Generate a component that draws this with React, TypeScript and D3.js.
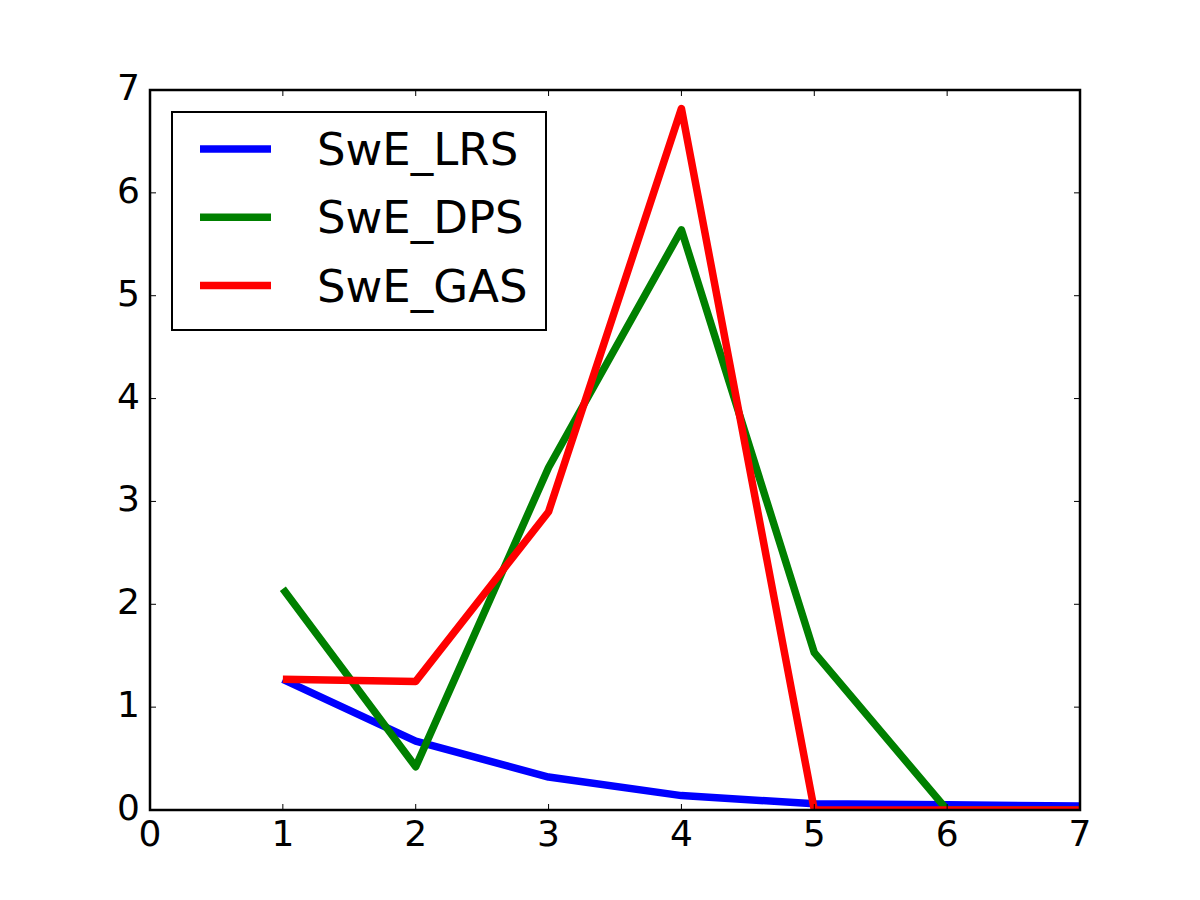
import React, { useEffect, useRef } from 'react'
import * as d3 from 'd3'

// x positions of the samples
const steps = [1, 2, 3, 4, 5, 6, 7]

const lrs = [1.27, 0.67, 0.32, 0.14, 0.06, 0.05, 0.04]
const dps = [2.15, 0.42, 3.33, 5.64, 1.53, 0.0, 0.0]
const gas = [1.27, 1.25, 2.9, 6.82, 0.0, 0.0, 0.0]

const seriesNames = ['SwE_LRS', 'SwE_DPS', 'SwE_GAS']
const seriesColors = ['#0000ff', '#008000', '#ff0000']

const xTicks = [0, 1, 2, 3, 4, 5, 6, 7]
const yTicks = [0, 1, 2, 3, 4, 5, 6, 7]

export default function App() {
  const ref = useRef<SVGSVGElement>(null)

  useEffect(() => {
    const svg = d3.select(ref.current)
    svg.selectAll('*').remove()

    const width = 1200
    const height = 900
    const margin = { left: 150, right: 120, top: 90, bottom: 90 }
    svg.attr('viewBox', `0 0 ${width} ${height}`)

    const x = d3.scaleLinear().domain([0, 7]).range([margin.left, width - margin.right])
    const y = d3.scaleLinear().domain([0, 7]).range([height - margin.bottom, margin.top])
    const [x0, x1] = x.range()
    const [y0, y1] = y.range()
    const font = 'DejaVu Sans, sans-serif'

    svg.append('rect').attr('width', width).attr('height', height).attr('fill', '#fff')

    svg
      .append('defs')
      .append('clipPath')
      .attr('id', 'plot-clip')
      .append('rect')
      .attr('x', x0)
      .attr('y', y1)
      .attr('width', x1 - x0)
      .attr('height', y0 - y1)

    // lines
    const line = d3
      .line<number>()
      .x((_, i) => x(steps[i]))
      .y(d => y(d))

    const plot = svg.append('g').attr('clip-path', 'url(#plot-clip)')
    ;[lrs, dps, gas].forEach((vals, i) => {
      plot
        .append('path')
        .datum(vals)
        .attr('d', line)
        .attr('fill', 'none')
        .attr('stroke', seriesColors[i])
        .attr('stroke-width', 7.5)
        .attr('stroke-linejoin', 'round')
    })

    // ticks on all four sides, pointing inward
    const tickLen = 6
    const ticks = svg.append('g').attr('stroke', '#000').attr('stroke-width', 1)
    xTicks.forEach(t => {
      ticks.append('line').attr('x1', x(t)).attr('x2', x(t)).attr('y1', y0).attr('y2', y0 - tickLen)
      ticks.append('line').attr('x1', x(t)).attr('x2', x(t)).attr('y1', y1).attr('y2', y1 + tickLen)
    })
    yTicks.forEach(t => {
      ticks.append('line').attr('x1', x0).attr('x2', x0 + tickLen).attr('y1', y(t)).attr('y2', y(t))
      ticks.append('line').attr('x1', x1).attr('x2', x1 - tickLen).attr('y1', y(t)).attr('y2', y(t))
    })

    // frame
    svg
      .append('rect')
      .attr('x', x0)
      .attr('y', y1)
      .attr('width', x1 - x0)
      .attr('height', y0 - y1)
      .attr('fill', 'none')
      .attr('stroke', '#000')
      .attr('stroke-width', 2.5)

    // tick labels
    svg
      .append('g')
      .selectAll('text')
      .data(xTicks)
      .join('text')
      .attr('x', d => x(d))
      .attr('y', y0 + 36)
      .attr('text-anchor', 'middle')
      .attr('font-family', font)
      .attr('font-size', 36)
      .text(d => d)

    svg
      .append('g')
      .selectAll('text')
      .data(yTicks)
      .join('text')
      .attr('x', x0 - 10)
      .attr('y', d => y(d) + 10)
      .attr('text-anchor', 'end')
      .attr('font-family', font)
      .attr('font-size', 36)
      .text(d => d)

    // legend
    const legend = svg.append('g')
    legend
      .append('rect')
      .attr('x', 172)
      .attr('y', 112)
      .attr('width', 374)
      .attr('height', 218)
      .attr('fill', '#fff')
      .attr('stroke', '#000')
      .attr('stroke-width', 2)
    seriesNames.forEach((name, i) => {
      const cy = 149 + i * 68.3
      legend
        .append('line')
        .attr('x1', 200)
        .attr('x2', 271)
        .attr('y1', cy)
        .attr('y2', cy)
        .attr('stroke', seriesColors[i])
        .attr('stroke-width', 7.5)
      legend
        .append('text')
        .attr('x', 317)
        .attr('y', cy + 16)
        .attr('font-family', font)
        .attr('font-size', 45)
        .text(name)
    })
  }, [])

  return (
    <svg
      ref={ref}
      width={1200}
      height={900}
      style={{ position: 'absolute', left: 0, top: 0, display: 'block' }}
    />
  )
}
